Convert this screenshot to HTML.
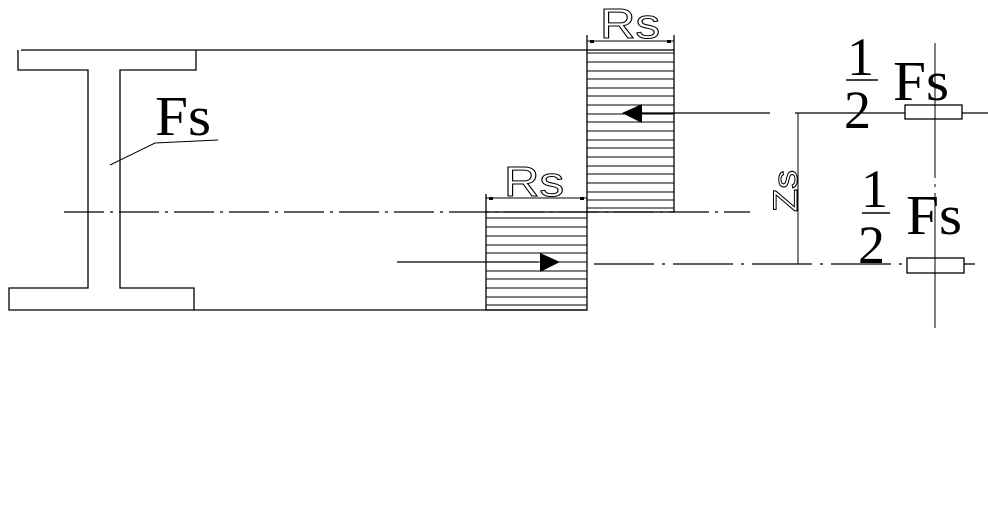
<!DOCTYPE html>
<html><head><style>html,body{margin:0;padding:0;background:#fff}svg{display:block}</style></head>
<body>
<svg width="988" height="527" xmlns="http://www.w3.org/2000/svg">
<g stroke="#000" stroke-width="1.3" fill="none">
<polyline points="18,50 18,70 88,70 88,288 9,288 9,310 194,310 194,288 120,288 120,70 196,70 196,50"/>
<line x1="21" y1="50" x2="587" y2="50"/>
<line x1="194" y1="310" x2="587" y2="310"/>
<line x1="64" y1="212" x2="750" y2="212" stroke-dasharray="40,6,3,6"/>
<rect x="587" y="50" width="87" height="162"/>
<line x1="587" y1="35" x2="587" y2="50"/><line x1="674" y1="35" x2="674" y2="50"/>
<line x1="587" y1="41" x2="674" y2="41" stroke-width="1"/>
<rect x="486" y="212" width="101" height="98"/>
<line x1="486" y1="194" x2="486" y2="212"/>
<line x1="486" y1="198" x2="587" y2="198" stroke-width="1"/>
<line x1="642" y1="113" x2="770" y2="113"/>
<line x1="795" y1="113" x2="988" y2="113"/>
<line x1="397" y1="262" x2="538" y2="262"/>
<line x1="594" y1="264" x2="905" y2="264" stroke-dasharray="60,8,3,8"/>
<line x1="964" y1="264" x2="975" y2="264"/>
<line x1="798" y1="113" x2="798" y2="264" stroke-width="1"/>
<line x1="935" y1="43" x2="935" y2="328" stroke-dasharray="60,6,3,6" stroke-width="1"/>
<rect x="905" y="105" width="57" height="14" fill="#fff"/>
<rect x="907" y="258" width="57" height="15" fill="#fff"/>
<line x1="935" y1="98" x2="935" y2="125" stroke-width="1"/>
<line x1="935" y1="250" x2="935" y2="280" stroke-width="1"/>
<polyline points="110,165 155,143 218,140" stroke-width="1"/>
<line x1="846" y1="80" x2="878" y2="80" stroke-width="1.5"/>
<line x1="862" y1="213" x2="890" y2="213" stroke-width="1.5"/>
</g>
<g stroke="#000" stroke-width="1">
<line x1="587" y1="53" x2="674" y2="53"/>
<line x1="587" y1="62" x2="674" y2="62"/><line x1="587" y1="71" x2="674" y2="71"/>
<line x1="587" y1="79" x2="674" y2="79"/><line x1="587" y1="88" x2="674" y2="88"/>
<line x1="587" y1="96" x2="674" y2="96"/><line x1="587" y1="105" x2="674" y2="105"/>
<line x1="587" y1="114" x2="674" y2="114"/><line x1="587" y1="122" x2="674" y2="122"/>
<line x1="587" y1="131" x2="674" y2="131"/><line x1="587" y1="140" x2="674" y2="140"/>
<line x1="587" y1="148" x2="674" y2="148"/><line x1="587" y1="157" x2="674" y2="157"/>
<line x1="587" y1="166" x2="674" y2="166"/><line x1="587" y1="174" x2="674" y2="174"/>
<line x1="587" y1="183" x2="674" y2="183"/><line x1="587" y1="192" x2="674" y2="192"/>
<line x1="587" y1="200" x2="674" y2="200"/><line x1="587" y1="208" x2="674" y2="208"/>
<line x1="486" y1="218" x2="587" y2="218"/><line x1="486" y1="227" x2="587" y2="227"/>
<line x1="486" y1="236" x2="587" y2="236"/><line x1="486" y1="245" x2="587" y2="245"/>
<line x1="486" y1="253" x2="587" y2="253"/><line x1="486" y1="262" x2="587" y2="262"/>
<line x1="486" y1="271" x2="587" y2="271"/><line x1="486" y1="279" x2="587" y2="279"/>
<line x1="486" y1="288" x2="587" y2="288"/><line x1="486" y1="297" x2="587" y2="297"/>
<line x1="486" y1="305" x2="587" y2="305"/>
</g>
<polygon points="622,113 642,104 642,123" fill="#000"/>
<polygon points="560,262 540,253 540,272" fill="#000"/>
<rect x="590" y="40" width="4" height="3"/><rect x="667" y="40" width="4" height="3"/>
<rect x="489" y="197" width="4" height="3"/><rect x="580" y="197" width="4" height="3"/>
<g font-family="Liberation Sans, sans-serif" font-size="42" fill="#fff" stroke="#000" stroke-width="1">
<text x="600" y="38" textLength="60" lengthAdjust="spacingAndGlyphs">Rs</text>
<text x="504" y="196" textLength="60" lengthAdjust="spacingAndGlyphs">Rs</text>
<text transform="translate(797,212) rotate(-90)" font-size="34" textLength="42" lengthAdjust="spacingAndGlyphs">Zs</text>
</g>
<g font-family="Liberation Serif, serif" fill="#000">
<text x="155" y="135" font-size="56" textLength="56" lengthAdjust="spacingAndGlyphs">Fs</text>
<text x="847" y="75" font-size="54">1</text>
<text x="844" y="128" font-size="54">2</text>
<text x="893" y="100" font-size="56" textLength="56" lengthAdjust="spacingAndGlyphs">Fs</text>
<text x="861" y="207" font-size="54">1</text>
<text x="858" y="263" font-size="54">2</text>
<text x="906" y="234" font-size="56" textLength="56" lengthAdjust="spacingAndGlyphs">Fs</text>
</g>
</svg>
</body></html>
